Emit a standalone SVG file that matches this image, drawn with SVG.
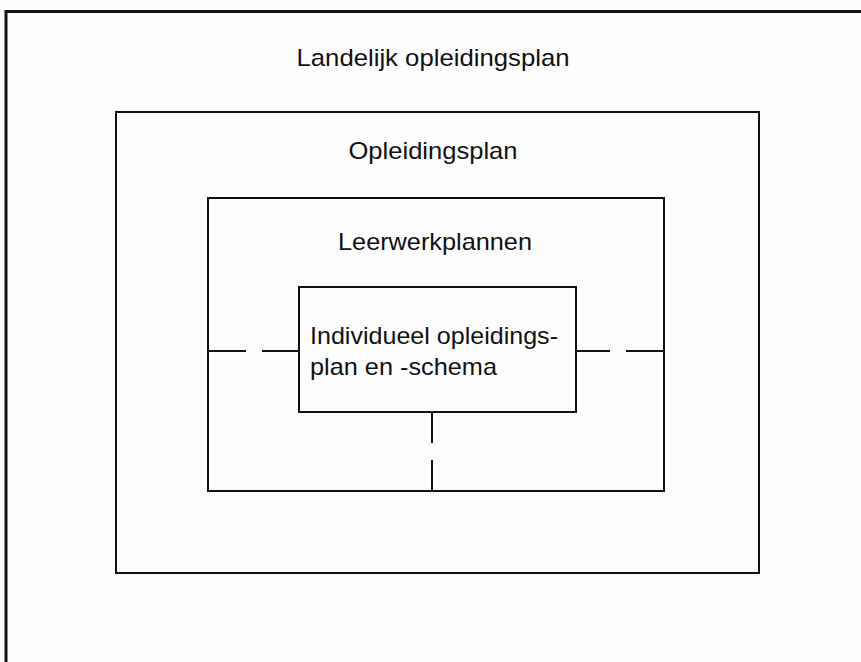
<svg xmlns="http://www.w3.org/2000/svg" width="861" height="662" viewBox="0 0 861 662">
<style>
.box{fill:none;stroke:#111;stroke-width:2}
.frame{fill:none;stroke:#111;stroke-width:3}
.t{font-family:"Liberation Sans",Arial,sans-serif;font-size:24px;fill:#111}
.c{text-anchor:middle}
.dash{fill:none;stroke:#111;stroke-width:2}
</style>
<rect width="861" height="662" fill="#fdfdfd"/>
<g id="landelijk">
<path class="frame" d="M6,662 V11.5 H861"/>
<text class="t c" x="433" y="66" textLength="273" lengthAdjust="spacingAndGlyphs">Landelijk opleidingsplan</text>
</g>
<g id="opleidingsplan">
<rect class="box" x="116" y="112" width="643" height="461"/>
<text class="t c" x="433" y="159" textLength="169" lengthAdjust="spacingAndGlyphs">Opleidingsplan</text>
</g>
<g id="leerwerkplannen">
<rect class="box" x="208" y="198" width="456" height="293"/>
<text class="t c" x="435" y="250" textLength="194" lengthAdjust="spacingAndGlyphs">Leerwerkplannen</text>
</g>
<g id="individueel">
<rect class="box" x="299" y="287" width="277" height="125"/>
<text class="t" x="310" y="344" textLength="248" lengthAdjust="spacingAndGlyphs">Individueel opleidings-</text>
<text class="t" x="310" y="375" textLength="187" lengthAdjust="spacingAndGlyphs">plan en -schema</text>
</g>
<g id="connectors">
<path class="dash" d="M208,351 H246 M262,351 H299"/>
<path class="dash" d="M576,351 H610 M626,351 H664"/>
<path class="dash" d="M432,412 V443 M432,460 V491"/>
</g>
</svg>
